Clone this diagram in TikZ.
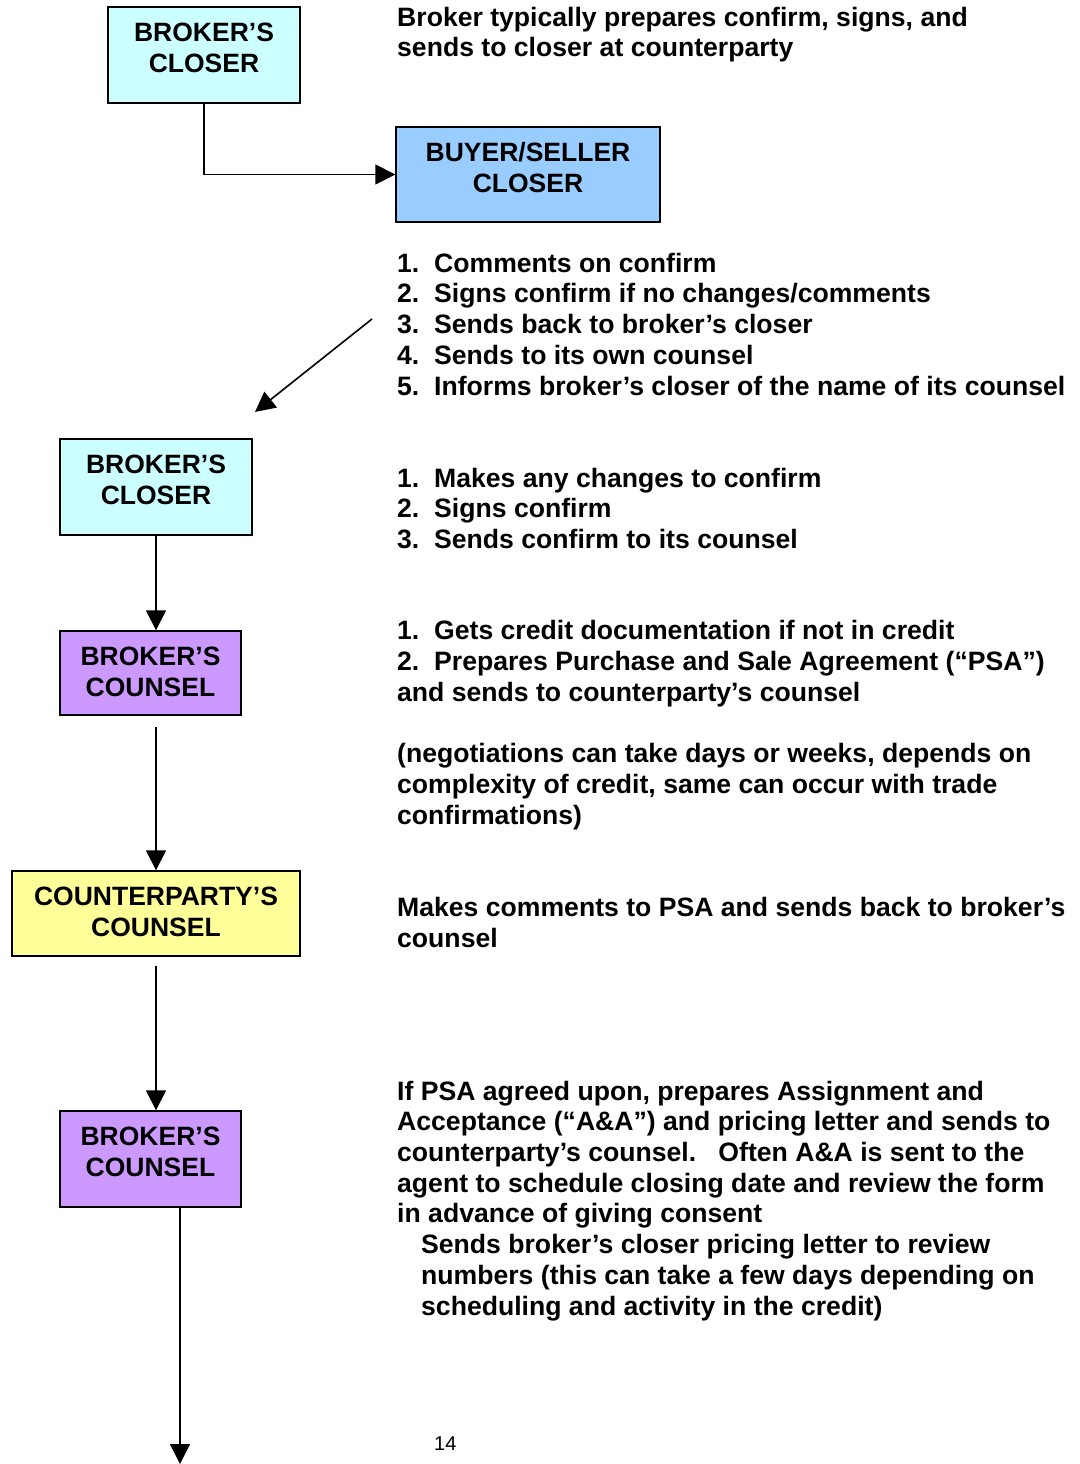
\documentclass[tikz,border=0pt]{standalone}
\usepackage{fontspec}
\setmainfont{Liberation Sans}
\usetikzlibrary{arrows.meta}
\definecolor{closercyan}{HTML}{CCFFFF}
\definecolor{partyblue}{HTML}{99CCFF}
\definecolor{counselviolet}{HTML}{CC99FF}
\definecolor{cpyellow}{HTML}{FFFF99}
\begin{document}
\begin{tikzpicture}[x=1pt,y=-1pt,
  box/.style={draw=black, line width=1.4pt, inner sep=0pt},
  boxtext/.style={anchor=north, inner sep=0pt, align=center,
    font=\fontsize{26.5}{31}\selectfont\bfseries},
  note/.style={anchor=base west, inner sep=0pt, align=left,
    font=\fontsize{26.6}{30.7}\selectfont\bfseries},
  arr/.style={draw=black, line width=1.6pt, -{Triangle[length=20pt,width=20pt]}}
]
\useasboundingbox (0,0) rectangle (1079,1464);
\newcommand\itm[1]{\makebox[37pt][l]{#1}}

% flow boxes, each with its two-line caption hung from the top edge
\node[box, fill=closercyan, minimum width=192pt, minimum height=96pt] (b1) at (204,55) {};
\node[boxtext] (t1) at ([yshift=-16pt]b1.north) {BROKER’S\\CLOSER};

\node[box, fill=partyblue, minimum width=264pt, minimum height=95pt] (b2) at (528,174.5) {};
\node[boxtext] (t2) at ([yshift=-16pt]b2.north) {BUYER/SELLER\\CLOSER};

\node[box, fill=closercyan, minimum width=192pt, minimum height=96pt] (b3) at (156,487) {};
\node[boxtext] (t3) at ([yshift=-16pt]b3.north) {BROKER’S\\CLOSER};

\node[box, fill=counselviolet, minimum width=181pt, minimum height=84pt] (b4) at (150.5,673) {};
\node[boxtext] (t4) at ([yshift=-16pt]b4.north) {BROKER’S\\COUNSEL};

\node[box, fill=cpyellow, minimum width=288pt, minimum height=85pt] (b5) at (156,913.5) {};
\node[boxtext] (t5) at ([yshift=-16pt]b5.north) {COUNTERPARTY’S\\COUNSEL};

\node[box, fill=counselviolet, minimum width=181pt, minimum height=96pt] (b6) at (150.5,1159) {};
\node[boxtext] (t6) at ([yshift=-16pt]b6.north) {BROKER’S\\COUNSEL};

% free connector ends
\coordinate (d1) at (372,319);
\coordinate (d2) at (255,412);
\coordinate (c4) at (156,727);
\coordinate (c5) at (156,966);
\coordinate (c6) at (180,1207);
\coordinate (c7) at (180,1464);

% connectors
\draw[arr] (b1.south) |- (b2.west);
\draw[arr] (d1) -- (d2);
\draw[arr] (b3.south) -- (b3.south |- b4.north);
\draw[arr] (c4) -- (b5.north);
\draw[arr] (c5) -- (c5 |- b6.north);
\draw[arr] (c6) -- (c7);

% notes (each placed at the baseline of its last line)
\node[note] (n1) at (397,57) {Broker typically prepares confirm, signs, and\\
sends to closer at counterparty};

\node[note] (n2) at (397,395) {\itm{1.}Comments on confirm\\
\itm{2.}Signs confirm if no changes/comments\\
\itm{3.}Sends back to broker’s closer\\
\itm{4.}Sends to its own counsel\\
\itm{5.}Informs broker’s closer of the name of its counsel};

\node[note] (n3) at (397,548.5) {\itm{1.}Makes any changes to confirm\\
\itm{2.}Signs confirm\\
\itm{3.}Sends confirm to its counsel};

\node[note] (n4) at (397,824) {\itm{1.}Gets credit documentation if not in credit\\
\itm{2.}Prepares Purchase and Sale Agreement (“PSA”)\\
and sends to counterparty’s counsel\\[30.7pt]
(negotiations can take days or weeks, depends on\\
complexity of credit, same can occur with trade\\
confirmations)};

\node[note] (n5) at (397,947) {Makes comments to PSA and sends back to broker’s\\
counsel};

\node[note] (n6) at (397,1315) {If PSA agreed upon, prepares Assignment and\\
Acceptance (“A\&A”) and pricing letter and sends to\\
counterparty’s counsel.\ \ \ Often A\&A is sent to the\\
agent to schedule closing date and review the form\\
in advance of giving consent\\
\hspace*{24pt}Sends broker’s closer pricing letter to review\\
\hspace*{24pt}numbers (this can take a few days depending on\\
\hspace*{24pt}scheduling and activity in the credit)};

\node[anchor=base west, inner sep=0pt, font=\fontsize{20}{24}\selectfont] (pg) at (434,1450) {14};
\end{tikzpicture}
\end{document}
